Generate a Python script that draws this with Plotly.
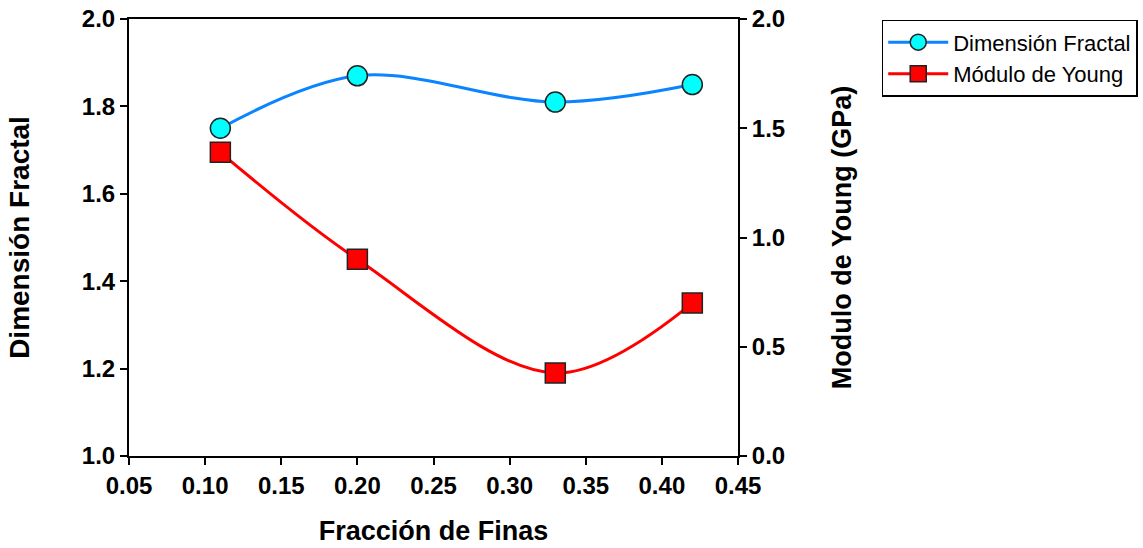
import plotly.graph_objects as go

# Fines fraction and measured properties
fraccion_finas = [0.11, 0.20, 0.33, 0.42]
dimension_fractal = [1.75, 1.87, 1.81, 1.85]
modulo_young = [1.39, 0.90, 0.38, 0.70]

x_ticks = [0.05, 0.10, 0.15, 0.20, 0.25, 0.30, 0.35, 0.40, 0.45]
y_ticks = [1.0, 1.2, 1.4, 1.6, 1.8, 2.0]
y2_ticks = [0.0, 0.5, 1.0, 1.5, 2.0]

FONT = "Liberation Sans, Arial, sans-serif"

fig = go.Figure()
fig.add_trace(go.Scatter(
    x=fraccion_finas, y=dimension_fractal, name="Dimensión Fractal",
    mode="lines+markers",
    line=dict(color="#0A84FF", width=3, shape="spline", smoothing=1.0),
    marker=dict(symbol="circle", size=20, color="#00FFFF",
                line=dict(color="#222222", width=1.5)),
))
fig.add_trace(go.Scatter(
    x=fraccion_finas, y=modulo_young, name="Módulo de Young",
    mode="lines+markers", yaxis="y2",
    line=dict(color="#FF0000", width=3, shape="spline", smoothing=1.0),
    marker=dict(symbol="square", size=20, color="#FF0000",
                line=dict(color="#222222", width=1.5)),
))

axis_common = dict(
    showgrid=False, zeroline=False, showline=True, linecolor="black",
    linewidth=2, ticks="outside", ticklen=7, tickwidth=2, tickcolor="black",
    automargin=False,
    tickfont=dict(family=FONT, size=24, color="black", weight="bold"),
)

fig.update_layout(
    width=1143, height=548,
    margin=dict(l=129, r=405, t=19, b=92, autoexpand=False),
    paper_bgcolor="white", plot_bgcolor="white",
    font=dict(family=FONT, color="black"),
    xaxis=dict(
        **axis_common, mirror=True, range=[0.05, 0.45],
        tickvals=x_ticks, tickformat=".2f",
        title=dict(text="Fracción de Finas", standoff=23,
                   font=dict(family=FONT, size=27, weight="bold")),
    ),
    yaxis=dict(
        **axis_common, range=[1.0, 2.0], tickvals=y_ticks, tickformat=".1f",
        title=dict(text="Dimensión Fractal", standoff=44,
                   font=dict(family=FONT, size=28, weight="bold")),
    ),
    yaxis2=dict(
        **axis_common, overlaying="y", side="right", range=[0.0, 2.0],
        tickvals=y2_ticks, tickformat=".1f",
        title=dict(text="Modulo de Young (GPa)", standoff=48,
                   font=dict(family=FONT, size=27, weight="bold")),
    ),
    legend=dict(
        x=1.236, y=0.998, xanchor="left", yanchor="top",
        bgcolor="white", bordercolor="black", borderwidth=1.5,
        font=dict(family=FONT, size=22, color="black"),
        itemwidth=60, tracegroupgap=0,
    ),
    showlegend=True,
)

fig.write_html("out.html")
